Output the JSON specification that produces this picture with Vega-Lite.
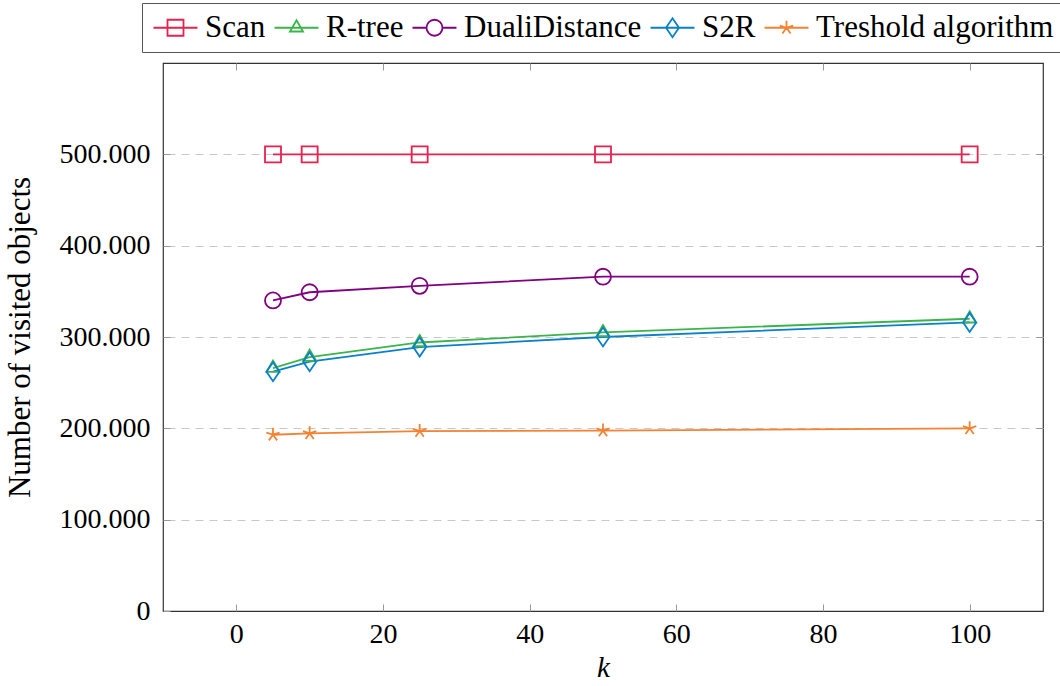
{
  "$schema": "https://vega.github.io/schema/vega-lite/v6.json",
  "width": 880,
  "height": 548,
  "autosize": {"type": "none"},
  "padding": {"left": 163, "top": 63, "right": 17, "bottom": 75},
  "background": "white",
  "config": {
    "font": "Liberation Serif",
    "view": {"stroke": "#333333", "strokeWidth": 1.2}
  },
  "data": {
    "values": [
      {"series": "Scan", "k": 5, "v": 500000},
      {"series": "Scan", "k": 10, "v": 500000},
      {"series": "Scan", "k": 25, "v": 500000},
      {"series": "Scan", "k": 50, "v": 500000},
      {"series": "Scan", "k": 100, "v": 500000},
      {"series": "R-tree", "k": 5, "v": 266000},
      {"series": "R-tree", "k": 10, "v": 278000},
      {"series": "R-tree", "k": 25, "v": 294000},
      {"series": "R-tree", "k": 50, "v": 305000},
      {"series": "R-tree", "k": 100, "v": 320000},
      {"series": "DualiDistance", "k": 5, "v": 340000},
      {"series": "DualiDistance", "k": 10, "v": 349000},
      {"series": "DualiDistance", "k": 25, "v": 356000},
      {"series": "DualiDistance", "k": 50, "v": 366000},
      {"series": "DualiDistance", "k": 100, "v": 366000},
      {"series": "S2R", "k": 5, "v": 262000},
      {"series": "S2R", "k": 10, "v": 273000},
      {"series": "S2R", "k": 25, "v": 289000},
      {"series": "S2R", "k": 50, "v": 300000},
      {"series": "S2R", "k": 100, "v": 316000},
      {"series": "Treshold algorithm", "k": 5, "v": 193000},
      {"series": "Treshold algorithm", "k": 10, "v": 194500},
      {"series": "Treshold algorithm", "k": 25, "v": 197000},
      {"series": "Treshold algorithm", "k": 50, "v": 197500},
      {"series": "Treshold algorithm", "k": 100, "v": 200000}
    ]
  },
  "encoding": {
    "color": {
      "field": "series",
      "type": "nominal",
      "scale": {
        "domain": ["Scan", "R-tree", "DualiDistance", "S2R", "Treshold algorithm"],
        "range": ["#E8214F", "#3CB44B", "#800080", "#0A80C8", "#F58231"]
      },
      "legend": {
        "orient": "none",
        "legendX": -21,
        "legendY": -60,
        "direction": "horizontal",
        "columns": 5,
        "title": null,
        "symbolSize": 784,
        "symbolStrokeWidth": 1.8,
        "symbolType": {"expr": "datum.value === 'Scan' ? 'M-0.929,0H2.214M0.072,-0.571H1.214V0.571H0.072Z' : datum.value === 'R-tree' ? 'M-0.929,0H2.214M0.643,-0.536L1.107,0.268L0.179,0.268Z' : datum.value === 'DualiDistance' ? 'M-0.929,0H0.072M1.214,0H2.214M1.214,0A0.571,0.571 0 1 1 0.072,0A0.571,0.571 0 1 1 1.214,0Z' : datum.value === 'S2R' ? 'M-0.929,0H2.214M0.643,-0.679L1.107,0L0.643,0.679L0.179,0Z' : 'M-0.929,0H2.214M0.643,0L0.643,-0.5M0.643,0L0.168,-0.155M0.643,0L0.349,0.405M0.643,0L0.937,0.405M0.643,0L1.118,-0.155'"},
        "labelFont": "Liberation Serif",
        "labelFontSize": 31,
        "labelColor": "#000000",
        "labelOffset": 23,
        "columnPadding": 4,
        "padding": 9,
        "strokeColor": "#555555",
        "fillColor": "white",
        "labelLimit": 400
      }
    }
  },
  "layer": [
    {
      "mark": {"type": "line", "strokeWidth": 1.8},
      "encoding": {
        "x": {
          "field": "k", "type": "quantitative",
          "scale": {"domain": [-10, 110], "nice": false, "zero": false},
          "axis": {
            "orient": "bottom",
            "values": [0, 20, 40, 60, 80, 100],
            "grid": false,
            "domain": false,
            "tickSize": -7,
            "tickColor": "#999999",
            "labelFontSize": 28,
            "labelColor": "#000000",
            "labelPadding": 16,
            "title": "k",
            "titleFontStyle": "italic",
            "titleFontWeight": "normal",
            "titleFontSize": 29,
            "titleColor": "#000000",
            "titlePadding": 5
          }
        },
        "y": {
          "field": "v", "type": "quantitative",
          "scale": {"domain": [0, 600000], "nice": false},
          "axis": {
            "orient": "left",
            "values": [0, 100000, 200000, 300000, 400000, 500000],
            "labelExpr": "replace(format(datum.value, ','), ',', '.')",
            "grid": false,
            "domain": false,
            "tickSize": -7,
            "tickColor": "#999999",
            "labelFontSize": 28,
            "labelColor": "#000000",
            "labelPadding": 20,
            "title": "Number of visited objects",
            "titleFontWeight": "normal",
            "titleFontSize": 31,
            "titleColor": "#000000",
            "titlePadding": 23
          }
        }
      }
    },
    {
      "transform": [{"filter": {"field": "series", "equal": "Scan"}}],
      "mark": {"type": "point", "filled": false, "strokeWidth": 1.8, "size": 784, "opacity": 1, "shape": "M-0.571,-0.571H0.571V0.571H-0.571Z"},
      "encoding": {
        "x": {
          "field": "k", "type": "quantitative",
          "axis": {
            "orient": "top",
            "values": [0, 20, 40, 60, 80, 100],
            "labels": false,
            "grid": false,
            "domain": false,
            "tickSize": -7,
            "tickColor": "#999999",
            "title": null
          }
        },
        "y": {
          "field": "v", "type": "quantitative",
          "axis": {
            "orient": "right",
            "values": [100000, 200000, 300000, 400000, 500000],
            "labels": false,
            "grid": true,
            "gridColor": "#c8c8c8",
            "gridDash": [8, 6],
            "gridWidth": 1,
            "domain": false,
            "tickSize": -7,
            "tickColor": "#999999",
            "title": null
          }
        }
      }
    },
    {
      "transform": [{"filter": {"field": "series", "equal": "R-tree"}}],
      "mark": {"type": "point", "filled": false, "strokeWidth": 1.8, "size": 784, "opacity": 1, "shape": "M0,-0.536L0.464,0.268L-0.464,0.268Z"},
      "encoding": {
        "x": {"field": "k", "type": "quantitative", "axis": null},
        "y": {"field": "v", "type": "quantitative", "axis": null}
      }
    },
    {
      "transform": [{"filter": {"field": "series", "equal": "DualiDistance"}}],
      "mark": {"type": "point", "filled": false, "strokeWidth": 1.8, "size": 784, "opacity": 1, "shape": "M0.571,0A0.571,0.571 0 1 1 -0.571,0A0.571,0.571 0 1 1 0.571,0Z"},
      "encoding": {
        "x": {"field": "k", "type": "quantitative", "axis": null},
        "y": {"field": "v", "type": "quantitative", "axis": null}
      }
    },
    {
      "transform": [{"filter": {"field": "series", "equal": "S2R"}}],
      "mark": {"type": "point", "filled": false, "strokeWidth": 1.8, "size": 784, "opacity": 1, "shape": "M0,-0.679L0.464,0L0,0.679L-0.464,0Z"},
      "encoding": {
        "x": {"field": "k", "type": "quantitative", "axis": null},
        "y": {"field": "v", "type": "quantitative", "axis": null}
      }
    },
    {
      "transform": [{"filter": {"field": "series", "equal": "Treshold algorithm"}}],
      "mark": {"type": "point", "filled": false, "strokeWidth": 1.8, "size": 784, "opacity": 1, "shape": "M0,0L0,-0.5M0,0L-0.475,-0.155M0,0L-0.294,0.405M0,0L0.294,0.405M0,0L0.475,-0.155"},
      "encoding": {
        "x": {"field": "k", "type": "quantitative", "axis": null},
        "y": {"field": "v", "type": "quantitative", "axis": null}
      }
    }
  ],
  "resolve": {"axis": {"x": "independent", "y": "independent"}}
}
